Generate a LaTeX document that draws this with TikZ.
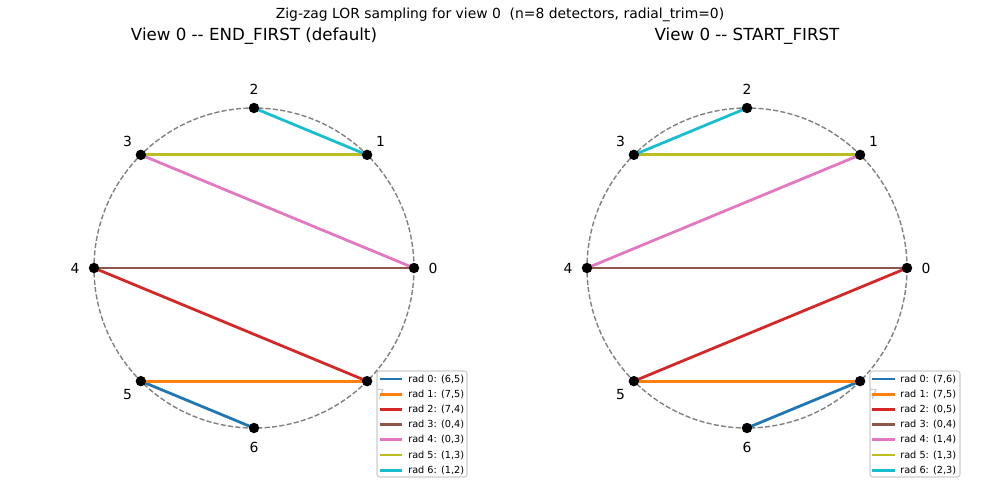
\documentclass[tikz,border=0pt]{standalone}
\usepackage{fontspec}
\setmainfont{DejaVu Sans}
\usepackage{tikz}
\usetikzlibrary{calc}
\definecolor{tabblue}{HTML}{1F77B4}
\definecolor{taborange}{HTML}{FF7F0E}
\definecolor{tabred}{HTML}{D62728}
\definecolor{tabbrown}{HTML}{8C564B}
\definecolor{tabpink}{HTML}{E377C2}
\definecolor{tabolive}{HTML}{BCBD22}
\definecolor{tabcyan}{HTML}{17BECF}
\tikzset{
  det/.style={circle, fill=black, inner sep=0pt, minimum size=7.5pt},
  detlab/.style={font=\fontsize{10}{12}\selectfont, inner sep=0pt},
  ring/.style={black!50, line width=1pt, dash pattern=on 3.7pt off 1.6pt},
  lor/.style={line width=2pt},
  legbox/.style={draw=black!20, fill=white, fill opacity=0.8, rounded corners=2pt, line width=0.8pt},
  legtxt/.style={font=\fontsize{7}{8}\selectfont, anchor=west, inner sep=0pt}
}
\newcommand{\dd}{\mbox{-}\mbox{-}}

\begin{document}
\begin{tikzpicture}[x=0.72pt, y=-0.72pt]
\useasboundingbox (0,0) rectangle (1000,500);
\node[font=\fontsize{10}{12}\selectfont] (sup) at (500,15) {Zig-zag LOR sampling for view 0\ \ (n=8 detectors, radial\_trim=0)};
\node[font=\fontsize{12}{14}\selectfont] (titL) at (254,36) {View 0 \dd\ END\_FIRST (default)};
\node[font=\fontsize{12}{14}\selectfont] (titR) at (747,36) {View 0 \dd\ START\_FIRST};

% ring of detectors, left and right
\coordinate (cL) at (254,268);
\coordinate (cR) at (747,268);
\draw[ring] (cL) circle (160);
\draw[ring] (cR) circle (160);
\foreach \i in {0,...,7} {
  \coordinate (L\i) at ($(cL)+(-45*\i:160)$);
  \coordinate (R\i) at ($(cR)+(-45*\i:160)$);
};

% LORs
\foreach \a/\b/\c in {6/5/tabblue, 7/5/taborange, 7/4/tabred, 0/4/tabbrown, 0/3/tabpink, 1/3/tabolive, 1/2/tabcyan}
  \draw[lor, \c] (L\a) -- (L\b);
\foreach \a/\b/\c in {7/6/tabblue, 7/5/taborange, 0/5/tabred, 0/4/tabbrown, 1/4/tabpink, 1/3/tabolive, 2/3/tabcyan}
  \draw[lor, \c] (R\a) -- (R\b);

\foreach \i in {0,...,7} {
  \node[det] (dL\i) at (L\i) {};
  \node[det] (dR\i) at (R\i) {};
  \node[detlab] (nL\i) at ($(cL)+(-45*\i:179)$) {\i};
  \node[detlab] (nR\i) at ($(cR)+(-45*\i:179)$) {\i};
};

% legends
\draw[legbox] (377,371) rectangle (467,477);
\foreach \a/\b/\c [count=\k from 0] in {6/5/tabblue, 7/5/taborange, 7/4/tabred, 0/4/tabbrown, 0/3/tabpink, 1/3/tabolive, 1/2/tabcyan} {
  \draw[lor, \c] ({380},{379+15.2*\k}) -- ({402},{379+15.2*\k});
  \node[legtxt] (lgL\k) at ({408},{379+15.2*\k}) {rad \k: (\a,\b)};
};
\draw[legbox] (870,371) rectangle (960,477);
\foreach \a/\b/\c [count=\k from 0] in {7/6/tabblue, 7/5/taborange, 0/5/tabred, 0/4/tabbrown, 1/4/tabpink, 1/3/tabolive, 2/3/tabcyan} {
  \draw[lor, \c] ({872},{379+15.2*\k}) -- ({895},{379+15.2*\k});
  \node[legtxt] (lgR\k) at ({900},{379+15.2*\k}) {rad \k: (\a,\b)};
};
\end{tikzpicture}
\end{document}
